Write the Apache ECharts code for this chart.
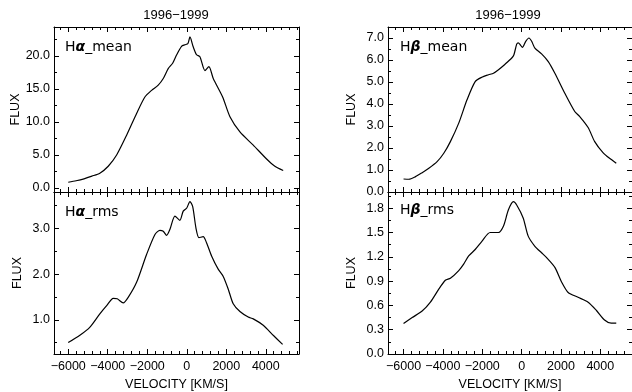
<!DOCTYPE html>
<html>
<head>
<meta charset="utf-8">
<script src="https://cdn.jsdelivr.net/npm/echarts@6/dist/echarts.min.js"></script>
<style>
  html, body { margin: 0; padding: 0; background: #fff; }
  #chart { width: 632px; height: 392px; }
</style>
</head>
<body>
<div id="chart"></div>
<script>
// velocities (km/s) and fluxes
const haMeanV = [-6000, -5600, -5200, -4800, -4400, -3975, -3550, -3045, -2540, -2120, -1780, -1445, -1190, -940, -715, -510, -255, -95, 60, 160, 325, 495, 665, 920, 1120, 1340, 1815, 2185, 2690, 3365, 4040, 4460, 4880];
const haMeanF = [0.88, 1.1, 1.4, 1.8, 2.25, 3.3, 5.0, 8.0, 11.3, 13.8, 14.8, 15.6, 16.6, 18.1, 18.9, 20.2, 21.5, 21.7, 21.9, 22.9, 21.4, 20.2, 19.9, 17.8, 18.4, 16.6, 13.8, 10.8, 8.5, 6.5, 4.4, 3.3, 2.66];

const haRmsV = [-6000, -5410, -4900, -4400, -4055, -3720, -3520, -3215, -2965, -2540, -2035, -1610, -1360, -1190, -1020, -855, -600, -350, -180, 0, 160, 300, 465, 615, 830, 1000, 1255, 1590, 1845, 2100, 2350, 2690, 3110, 3365, 3870, 4375, 4850];
const haRmsF = [0.5, 0.66, 0.84, 1.13, 1.31, 1.47, 1.46, 1.37, 1.49, 1.82, 2.43, 2.87, 2.96, 2.94, 2.85, 2.98, 3.27, 3.18, 3.38, 3.45, 3.59, 3.48, 3.01, 2.80, 2.82, 2.69, 2.40, 2.11, 1.95, 1.67, 1.35, 1.18, 1.06, 1.02, 0.88, 0.66, 0.46];

const hbMeanV = [-6000, -5730, -5390, -5055, -4715, -4295, -3955, -3620, -3195, -2775, -2360, -2020, -1680, -1430, -1175, -840, -500, -390, -250, -170, -60, 40, 210, 375, 510, 675, 1015, 1355, 1690, 2195, 2700, 2955, 3380, 3715, 4135, 4470, 4810];
const hbMeanF = [0.59, 0.58, 0.70, 0.88, 1.08, 1.38, 1.76, 2.29, 3.13, 4.19, 5.02, 5.22, 5.33, 5.40, 5.56, 5.81, 6.09, 6.24, 6.72, 6.78, 6.68, 6.57, 6.85, 7.0, 6.85, 6.54, 6.28, 5.93, 5.40, 4.49, 3.66, 3.43, 2.93, 2.29, 1.79, 1.53, 1.31];

const hbRmsV = [-6000, -5560, -5055, -4635, -4210, -3875, -3620, -3195, -2945, -2690, -2360, -2020, -1600, -1175, -920, -670, -415, -250, 80, 335, 675, 1015, 1270, 1690, 2030, 2365, 2870, 3380, 3795, 4215, 4555, 4810];
const hbRmsF = [0.378, 0.45, 0.53, 0.64, 0.80, 0.91, 0.935, 1.03, 1.11, 1.21, 1.29, 1.39, 1.50, 1.50, 1.58, 1.78, 1.88, 1.84, 1.68, 1.455, 1.33, 1.25, 1.19, 1.07, 0.89, 0.76, 0.70, 0.64, 0.54, 0.42, 0.38, 0.38];

const xMajor = [-6000, -4000, -2000, 0, 2000, 4000];
const xMinor = [-6400, -5600, -5200, -4800, -4400, -3600, -3200, -2800, -2400, -1600, -1200, -800, -400, 400, 800, 1200, 1600, 2400, 2800, 3200, 3600, 4400, 4800, 5200, 5600];

const haMeanMajor = [0, 5, 10, 15, 20];
const haMeanMinor = [2.5, 7.5, 12.5, 17.5, 22.5];
const haRmsMajor = [1, 2, 3];
const haRmsMinor = [0.5, 1.5, 2.5, 3.5];
const hbMeanMajor = [0, 1, 2, 3, 4, 5, 6, 7];
const hbMeanMinor = [0.5, 1.5, 2.5, 3.5, 4.5, 5.5, 6.5];
const hbRmsMajor = [0, 0.3, 0.6, 0.9, 1.2, 1.5, 1.8];
const hbRmsMinor = [0.15, 0.45, 0.75, 1.05, 1.35, 1.65, 1.95];

const title = '1996\u22121999';
const FONT = 'Liberation Sans';

function zip(a, b) {
    return a.map((v, i) => [v, b[i]]);
}

function minusFmt(v) {
    return v < 0 ? '\u2212' + Math.abs(v) : String(v);
}

// IDL-style box: ticks inside on all four sides, majors long, minors short
function boxAxes(grid, dim, min, max, majors, minors, label) {
    const sides = dim === 'x' ? ['bottom', 'top'] : ['left', 'right'];
    const out = [];
    sides.forEach((side, i) => {
        const base = {
            gridIndex: grid,
            type: 'value',
            position: side,
            min: min,
            max: max,
            splitLine: { show: false },
        };
        const main = Object.assign({}, base, {
            axisLine: { show: true, onZero: false, lineStyle: { color: '#000', width: 1 } },
            axisTick: { show: true, inside: true, length: 5, customValues: majors, lineStyle: { color: '#000', width: 1 } },
            axisLabel: { show: false },
        });
        if (i === 0 && label) {
            Object.assign(main, label.axis || {});
            main.axisLabel = Object.assign({
                show: true,
                customValues: majors,
                color: '#000',
                fontFamily: FONT,
                fontSize: 12.5,
            }, label.axisLabel);
        }
        out.push(main);
        out.push(Object.assign({}, base, {
            axisLine: { show: false, onZero: false },
            axisTick: { show: true, inside: true, length: 3, customValues: minors, lineStyle: { color: '#000', width: 1 } },
            axisLabel: { show: false },
        }));
    });
    return out;
}

const nameStyle = { color: '#000', fontFamily: FONT, fontSize: 12.5 };

const panels = [
    { left: 54, top: 27, height: 165, xmin: -6720, xmax: 5680, ymin: -0.6, ymax: 24.4, yMaj: haMeanMajor, yMin: haMeanMinor, data: zip(haMeanV, haMeanF), xLabels: false },
    { left: 54, top: 192, height: 164, xmin: -6720, xmax: 5680, ymin: 0.25, ymax: 3.8, yMaj: haRmsMajor, yMin: haRmsMinor, data: zip(haRmsV, haRmsF), xLabels: true },
    { left: 388, top: 27, height: 165, xmin: -6790, xmax: 5610, ymin: 0, ymax: 7.5, yMaj: hbMeanMajor, yMin: hbMeanMinor, data: zip(hbMeanV, hbMeanF), xLabels: false },
    { left: 388, top: 192, height: 164, xmin: -6790, xmax: 5610, ymin: 0, ymax: 2.0, yMaj: hbRmsMajor, yMin: hbRmsMinor, data: zip(hbRmsV, hbRmsF), xLabels: true },
];

const grids = [];
let xAxes = [];
let yAxes = [];
const series = [];

panels.forEach((p, g) => {
    grids.push({ left: p.left, top: p.top, width: 245, height: p.height, show: false });
    const xLab = p.xLabels ? {
        axis: {
            name: 'VELOCITY [KM/S]',
            nameLocation: 'middle',
            nameGap: 24,
            nameTextStyle: nameStyle,
        },
        axisLabel: { margin: 6, formatter: minusFmt },
    } : null;
    xAxes = xAxes.concat(boxAxes(g, 'x', p.xmin, p.xmax, xMajor, xMinor, xLab));
    yAxes = yAxes.concat(boxAxes(g, 'y', p.ymin, p.ymax, p.yMaj, p.yMin, {
        axis: {
            name: 'FLUX',
            nameLocation: 'middle',
            nameGap: 30,
            nameRotate: 90,
            nameTextStyle: nameStyle,
        },
        axisLabel: { margin: 4, formatter: (v) => v.toFixed(1) },
    }));
    series.push({
        type: 'line',
        xAxisIndex: g * 4,
        yAxisIndex: g * 4,
        data: p.data,
        smooth: 0.25,
        showSymbol: false,
        silent: true,
        lineStyle: { color: '#000', width: 1.2 },
    });
});

const labelStyle = (text, x, y) => ({
    type: 'text',
    x: x,
    y: y,
    style: {
        text: text,
        fill: '#000',
        font: '14px "DejaVu Sans"',
        verticalAlign: 'middle',
        rich: { g: { fontWeight: 'bold', fontStyle: 'italic', fontSize: 14, fontFamily: 'DejaVu Sans' } },
    },
});

const titleStyle = (x) => ({
    type: 'text',
    x: x,
    y: 15,
    style: {
        text: title,
        fill: '#000',
        font: '13px "Liberation Sans"',
        align: 'center',
        verticalAlign: 'middle',
    },
});

const chart = echarts.init(document.getElementById('chart'), null, { renderer: 'canvas' });
chart.setOption({
    backgroundColor: '#fff',
    animation: false,
    grid: grids,
    xAxis: xAxes,
    yAxis: yAxes,
    series: series,
    graphic: [
        titleStyle(176),
        titleStyle(508),
        labelStyle('H{g|\u03b1}_mean', 65, 47),
        labelStyle('H{g|\u03b1}_rms', 65, 212),
        labelStyle('H{g|\u03b2}_mean', 400, 47),
        labelStyle('H{g|\u03b2}_rms', 400, 210),
    ],
});
</script>
</body>
</html>
